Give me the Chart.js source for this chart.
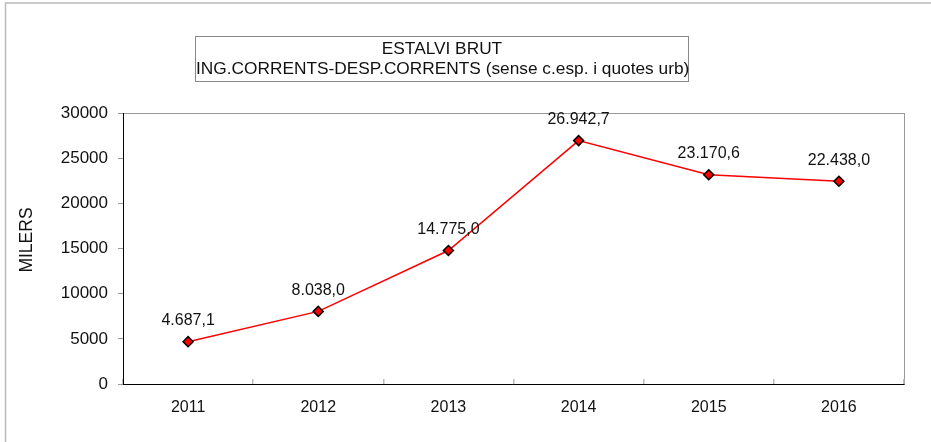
<!DOCTYPE html>
<html>
<head>
<meta charset="utf-8">
<script src="https://cdn.jsdelivr.net/npm/chart.js@4"></script>
<style>
  body { margin: 0; background: #fff; }
  #wrap { position: relative; width: 931px; height: 442px; }
  #titleBox {
    position: absolute; left: 195px; top: 36px; width: 492px; height: 43px;
    border: 1px solid #888; background: #fff;
    font-family: "Liberation Sans", Arial, sans-serif; font-size: 17.3px; color: #111;
    text-align: center; line-height: 20px; padding-top: 1px; box-sizing: content-box;
    white-space: nowrap;
  }
</style>
</head>
<body>
<div id="wrap">
  <canvas id="chartEstalvi" width="931" height="442"></canvas>
  <div id="titleBox">ESTALVI BRUT<br>ING.CORRENTS-DESP.CORRENTS (sense c.esp. i quotes urb)</div>
</div>
<script>
const years = ["2011", "2012", "2013", "2014", "2015", "2016"];
const estalviBrut = [4687.1, 8038.0, 14775.0, 26942.7, 23170.6, 22438.0];
const yTicks = [0, 5000, 10000, 15000, 20000, 25000, 30000];
const yTitle = "MILERS";

const fontFamily = '"Liberation Sans", Arial, sans-serif';

// 4687.1 -> "4.687,1"
function formatNum(v) {
  const parts = v.toFixed(1).split(".");
  const intPart = parts[0].replace(/\B(?=(\d{3})+(?!\d))/g, ".");
  return intPart + "," + parts[1];
}

const extras = {
  id: "extras",
  beforeDraw(chart) {
    const ctx = chart.ctx;
    const a = chart.chartArea;
    ctx.save();
    // outer frame (only top + left show)
    ctx.strokeStyle = "#bbb";
    ctx.lineWidth = 1.5;
    ctx.beginPath();
    ctx.moveTo(5.5, 442);
    ctx.lineTo(5.5, 3);
    ctx.lineTo(931, 3);
    ctx.stroke();
    // plot area frame
    ctx.strokeStyle = "#999";
    ctx.lineWidth = 1;
    ctx.strokeRect(a.left + 0.5, a.top + 0.5, a.right - a.left, a.bottom - a.top);
    // y axis title
    ctx.fillStyle = "#111";
    ctx.font = "17.5px " + fontFamily;
    ctx.textAlign = "center";
    ctx.textBaseline = "middle";
    ctx.translate(27, 240);
    ctx.rotate(-Math.PI / 2);
    ctx.fillText(yTitle, 0, 0);
    ctx.restore();
  },
  afterDatasetsDraw(chart) {
    const ctx = chart.ctx;
    const meta = chart.getDatasetMeta(0);
    ctx.save();
    ctx.fillStyle = "#111";
    ctx.font = "16px " + fontFamily;
    ctx.textAlign = "center";
    ctx.textBaseline = "middle";
    meta.data.forEach((pt, i) => {
      ctx.fillText(formatNum(estalviBrut[i]), pt.x, pt.y - 21);
    });
    ctx.restore();
  }
};

const chart = new Chart("chartEstalvi", {
  type: "line",
  data: {
    labels: years,
    datasets: [
      {
        label: "Estalvi brut",
        data: estalviBrut,
        borderColor: "red",
        borderWidth: 1.5,
        backgroundColor: "red",
        pointStyle: "rectRot",
        pointRadius: 5,
        pointBorderColor: "#000",
        pointBorderWidth: 1.5,
        pointBackgroundColor: "red",
        lineTension: 0,
        fill: false,
      },
    ],
  },
  options: {
    responsive: false,
    animation: false,
    events: [],
    layout: { padding: { top: 113, right: 27, left: 0, bottom: 0 } },
    plugins: {
      legend: { display: false },
      tooltip: { enabled: false },
    },
    scales: {
      x: {
        offset: true,
        afterFit(scale) { scale.height = 58; },
        border: { display: true, color: "#000", width: 1 },
        grid: {
          offset: true,
          drawOnChartArea: false,
          drawTicks: true,
          tickLength: -5,   // small marks pointing into the plot
          color: "#bbb",
          lineWidth: 1.5,
        },
        ticks: {
          color: "#111",
          padding: 19,
          font: { family: fontFamily, size: 16 },
          maxRotation: 0,
        },
      },
      y: {
        min: 0,
        max: 30000,
        afterFit(scale) { scale.width = 123; },
        afterBuildTicks(scale) { scale.ticks = yTicks.map(v => ({ value: v })); },
        border: { display: true, color: "#000", width: 1 },
        grid: {
          drawOnChartArea: false,
          drawTicks: true,
          tickLength: 5,
          color: "#999",
        },
        ticks: {
          color: "#111",
          padding: 10,
          font: { family: fontFamily, size: 17 },
          callback: (v) => String(v),
        },
      },
    },
  },
  plugins: [extras],
});
</script>
</body>
</html>
